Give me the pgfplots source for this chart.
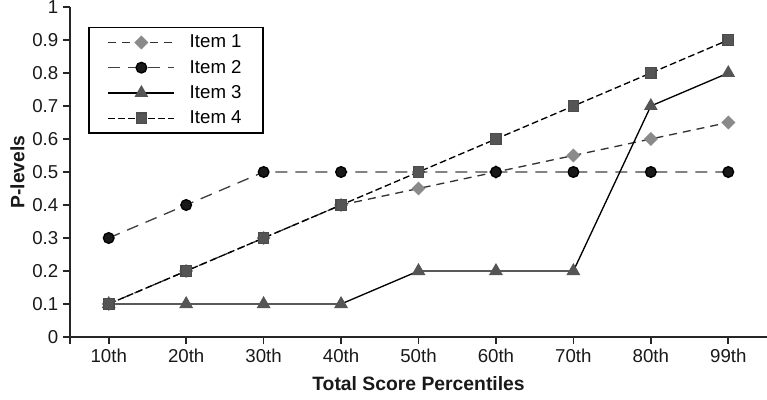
\documentclass[border=0pt]{standalone}
\usepackage{fontspec}
\setmainfont{Liberation Sans}
\usepackage{pgfplots}
\pgfplotsset{compat=1.18}
\definecolor{diag}{HTML}{8A8A8A}
\definecolor{darkg}{HTML}{555555}
\begin{document}
\begin{tikzpicture}
\begin{axis}[
  scale only axis,
  width=522.75pt, height=247.5pt,
  xmin=-0.5, xmax=8.5, ymin=0, ymax=1,
  axis x line=bottom, axis y line=left,
  axis line style={-, line width=1.3pt, black!85},
  tick style={line width=1.2pt, black!85},
  tick align=outside, major tick length=5.25pt,
  xtick={0,1,2,3,4,5,6,7,8},
  xticklabels={10th,20th,30th,40th,50th,60th,70th,80th,99th},
  extra x ticks={-0.5}, extra x tick labels={},
  ytick={0,0.1,0.2,0.3,0.4,0.5,0.6,0.7,0.8,0.9,1},
  yticklabels={0,0.1,0.2,0.3,0.4,0.5,0.6,0.7,0.8,0.9,1},
  ticklabel style={font=\fontsize{14}{16}\selectfont, black!90},
  xlabel={\textbf{Total Score Percentiles}},
  ylabel={\textbf{P-levels}},
  xlabel shift=-7pt,
  ylabel shift=-1pt,
  label style={font=\fontsize{14.5}{17}\selectfont, black!90},
  legend cell align=left,
  legend style={at={(axis description cs:0.0265,0.939)}, anchor=north west,
    draw=black, line width=0.9pt, font=\fontsize{14}{16}\selectfont,
    row sep=3.7pt, column sep=9pt, inner xsep=14pt, inner ysep=3.5pt,
    nodes={inner sep=2pt}},
  legend image code/.code={\draw[mark repeat=2,mark phase=2,#1] plot coordinates {(0pt,0pt) (24.75pt,0pt) (49.5pt,0pt)};},
]
\addplot[black!80, line width=1pt, dash pattern=on 6pt off 4.5pt,
  mark=square*, mark size=3.2pt, mark options={solid, rotate=45, fill=diag, draw=diag}]
  coordinates {(0,0.1)(1,0.2)(2,0.3)(3,0.4)(4,0.45)(5,0.5)(6,0.55)(7,0.6)(8,0.65)};
\addlegendentry{Item 1}
\addplot[black!75, line width=1pt, dash pattern=on 9pt off 6pt,
  mark=*, mark size=4pt, mark options={solid, fill=black!90, draw=black}]
  coordinates {(0,0.3)(1,0.4)(2,0.5)(3,0.5)(4,0.5)(5,0.5)(6,0.5)(7,0.5)(8,0.5)};
\addlegendentry{Item 2}
\addplot[black, line width=1pt,
  mark=triangle*, mark size=5pt, mark options={solid, fill=darkg, draw=darkg}]
  coordinates {(0,0.1)(1,0.1)(2,0.1)(3,0.1)(4,0.2)(5,0.2)(6,0.2)(7,0.7)(8,0.8)};
\addlegendentry{Item 3}
\addplot[black, line width=1pt, dash pattern=on 5pt off 2.5pt,
  mark=square*, mark size=3.9pt, mark options={solid, fill=darkg, draw=black!70}]
  coordinates {(0,0.1)(1,0.2)(2,0.3)(3,0.4)(4,0.5)(5,0.6)(6,0.7)(7,0.8)(8,0.9)};
\addlegendentry{Item 4}
\coordinate (bl) at (rel axis cs:0,0);
\coordinate (tr) at (rel axis cs:1,1);
\end{axis}
\pgfresetboundingbox
\path[use as bounding box] ([xshift=-52.5pt,yshift=-46.5pt]bl) rectangle ([yshift=5.25pt]tr);
\end{tikzpicture}
\end{document}
